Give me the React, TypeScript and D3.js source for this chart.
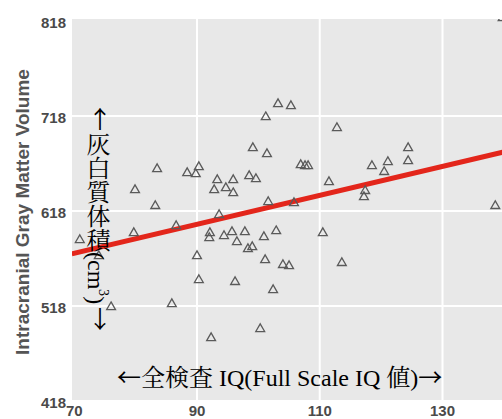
import React from "react";
import * as d3 from "d3";

// Full Scale IQ (x) and intracranial gray matter volume (y)
const IQ = [
  70.9, 74.0, 76.0, 79.7, 79.9, 83.5, 83.2, 86.6, 85.9, 88.4, 89.8, 90.3, 92.8, 93.3, 94.7, 95.9,
  95.9, 98.5, 99.6, 99.1, 101.4, 101.2, 103.2, 105.3, 101.6, 105.8, 106.9, 107.6, 108.1, 111.5,
  112.8, 117.4, 117.2, 118.5, 121.1, 120.5, 124.4, 124.4, 138.6, 139.8, 93.6, 92.1, 92.0, 94.4,
  95.7, 96.5, 97.8, 98.3, 99.0, 90.0, 90.3, 96.2, 92.3, 100.3, 101.1, 104.0, 105.0, 102.4, 110.5,
  113.6, 100.9, 102.9,
];
const GMV = [
  587.5, 570.6, 516.9, 594.8, 640.1, 662.2, 623.3, 602.2, 520.1, 658.0, 656.9, 664.3, 640.1, 650.6,
  642.2, 650.6, 636.9, 654.8, 651.7, 684.3, 678.0, 716.9, 730.6, 728.5, 627.5, 626.4, 666.4, 665.4,
  665.4, 648.5, 705.4, 639.1, 632.7, 665.4, 669.6, 659.1, 684.3, 670.6, 623.3, 821.0, 613.8, 594.8,
  589.6, 591.7, 595.9, 585.4, 595.9, 578.0, 580.1, 570.6, 545.4, 543.3, 484.3, 493.8, 566.4, 561.2,
  560.1, 534.8, 594.8, 563.3, 590.6, 596.9,
];
const xTicks = [70, 90, 110, 130];
const yTicks = [418, 518, 618, 718, 818];
const fitIntercept = 466.75;
const fitSlope = 1.5245;
const fitRange = [69.6, 140];

const yTitle = "Intracranial Gray Matter Volume";
const overlayXMid = "全検査 IQ(Full Scale IQ 値)";
const overlayYMid = "灰白質体積(cm";

const W = 502;
const H = 419;
const panel = { left: 72, top: 19, right: 502, bottom: 400 };

export default function App() {
  const x = d3.scaleLinear().domain([90, 130]).range([197, 442.5]);
  const y = d3.scaleLinear().domain([418, 818]).range([401, 21]);
  const tri = d3.symbol().type(d3.symbolTriangle).size(34)();
  const line = d3
    .line<number>()
    .x((d) => x(d))
    .y((d) => y(fitIntercept + fitSlope * d));

  const inX = (v: number) => x(v) > panel.left + 4 && x(v) < panel.right;
  const inY = (v: number) => y(v) > panel.top + 4 && y(v) < panel.bottom - 4;

  const serif = "'Liberation Serif', 'Noto Serif CJK JP', 'Noto Sans CJK JP', serif";
  const cjk = "'Noto Sans CJK JP', sans-serif";

  return (
    <svg
      width={W}
      height={H}
      style={{ position: "absolute", left: 0, top: 0, background: "#fff" }}
      fontFamily="'Liberation Sans', Arial, sans-serif"
    >
      <defs>
        <clipPath id="pc">
          <rect x={panel.left} y={panel.top} width={panel.right - panel.left} height={panel.bottom - panel.top} />
        </clipPath>
      </defs>
      <rect
        x={panel.left}
        y={panel.top}
        width={panel.right - panel.left}
        height={panel.bottom - panel.top}
        fill="#e8e8e8"
      />
      <g clipPath="url(#pc)">
        {xTicks.filter(inX).map((t) => (
          <line key={"gx" + t} x1={x(t)} x2={x(t)} y1={panel.top} y2={panel.bottom} stroke="#fff" strokeWidth={2} />
        ))}
        {yTicks.filter(inY).map((t) => (
          <line key={"gy" + t} y1={y(t)} y2={y(t)} x1={panel.left} x2={panel.right} stroke="#fff" strokeWidth={2} />
        ))}
        <path d={line(fitRange) || ""} stroke="#e3261b" strokeWidth={5} fill="none" />
        {IQ.map((v, i) => (
          <path
            key={i}
            d={tri || ""}
            transform={`translate(${x(v)},${y(GMV[i])})`}
            fill="none"
            stroke="#5a5a5a"
            strokeWidth={1.3}
          />
        ))}
      </g>
      {xTicks.map((t) => (
        <text key={"tx" + t} x={x(t)} y={416} textAnchor="middle" fontSize={15} fontWeight="bold" fill="#4a4a4a">
          {t}
        </text>
      ))}
      {yTicks.map((t) => (
        <text
          key={"ty" + t}
          x={66}
          y={y(t) + 2}
          dy="0.35em"
          textAnchor="end"
          fontSize={15}
          fontWeight="bold"
          fill="#4a4a4a"
        >
          {t}
        </text>
      ))}
      <text
        transform="translate(22,212) rotate(-90)"
        dy="0.35em"
        textAnchor="middle"
        fontSize={19}
        fontWeight="bold"
        fill="#555"
      >
        {yTitle}
      </text>
      <text x={100} y={128} textAnchor="middle" fontFamily={cjk} fontSize={24} fill="#000">
        ↑
      </text>
      <text
        x={96}
        y={132}
        fontFamily={serif}
        fontSize={24}
        fill="#000"
        style={{ writingMode: "vertical-rl" } as any}
      >
        {overlayYMid}
        <tspan baselineShift="super" fontSize={14}>
          3
        </tspan>
        )
      </text>
      <text x={100} y={328} textAnchor="middle" fontFamily={cjk} fontSize={24} fill="#000">
        ↓
      </text>
      <text x={117} y={386} fontFamily={serif} fontSize={24} fill="#000">
        <tspan fontFamily={cjk}>←</tspan>
        {overlayXMid}
        <tspan fontFamily={cjk}>→</tspan>
      </text>
    </svg>
  );
}
